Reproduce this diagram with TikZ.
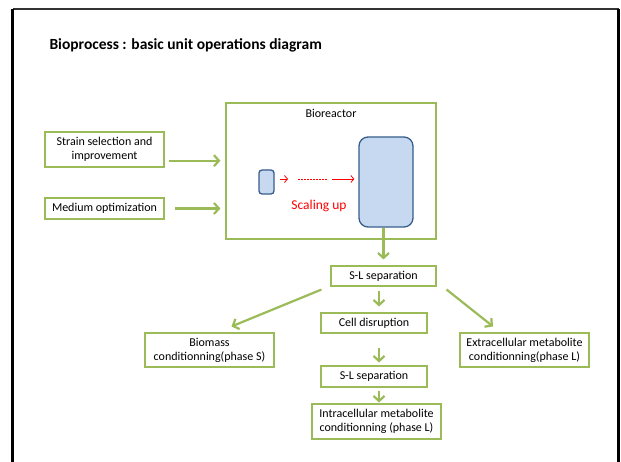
\documentclass[tikz,border=0pt]{standalone}
\usepackage{fontspec}
\setmainfont{Carlito}
\usetikzlibrary{arrows.meta}
\definecolor{OfficeGreen}{HTML}{9BBB59}
\definecolor{VesselFill}{HTML}{C6D9F1}
\definecolor{VesselEdge}{HTML}{385D8A}

\begin{document}
\begin{tikzpicture}[x=1pt,y=-1pt,font=\fontsize{12}{14}\selectfont,
  box/.style={draw=OfficeGreen,line width=1.1pt,fill=white,align=center,inner sep=0pt},
  flow/.style={draw=OfficeGreen,line width=2.2pt,-{Straight Barb[length=5pt,width=11pt]}},
  vessel/.style={draw=VesselEdge,fill=VesselFill,line width=1.3pt,inner sep=0pt},
  upscale/.style={draw=red,line width=0.8pt,-{Straight Barb[length=3pt,width=7pt]}}]
  \useasboundingbox (0,0) rectangle (621,462);

  % Frame
  \draw[black!80,line width=1.5pt] (12.5,9) -- (618.5,9);
  \draw[line width=2.2pt] (12.5,9) -- (12.5,462);
  \draw[line width=2.2pt] (618.5,9) -- (618.5,462);

  % Title
  \node[anchor=west,font=\fontsize{15.5}{18}\selectfont\bfseries] (title) at (46,45)
    {Bioprocess : basic unit operations diagram};

  % Upstream inputs
  \node[box,minimum width=119pt,minimum height=35pt] (strain) at (104.5,149.5)
    {Strain selection and\\improvement};
  \node[box,minimum width=119pt,minimum height=21pt] (medium) at (104.5,208.5)
    {Medium optimization};

  % Bioreactor
  \node[box,minimum width=210pt,minimum height=136pt] (reactor) at (331,171) {};
  \node (reactorlabel) at (331,113) {Bioreactor};
  \node[vessel,rounded corners=3pt,minimum width=15pt,minimum height=24pt] (small) at (266.5,182) {};
  \node[vessel,rounded corners=9pt,minimum width=54pt,minimum height=90pt] (big) at (386,182) {};

  % Scaling up
  \coordinate (dotstart) at (298,179);
  \coordinate (dotend) at (327,179);
  \draw[upscale] ([shift={(5,-3)}]small.east) -- ([xshift=-10pt]dotstart);
  \draw[red,line width=0.9pt,dash pattern=on 2pt off 1pt] (dotstart) -- (dotend);
  \draw[upscale,shorten >=4pt] ([xshift=5pt]dotend) -- ([yshift=3pt]big.west);
  \node[text=red,font=\fontsize{13.5}{16}\selectfont] (scaling) at (319,206) {Scaling up};

  \coordinate (strainin) at (164,160.7);
  \draw[flow,shorten <=5pt,shorten >=5pt] (strainin) -- (strainin -| reactor.west);
  \draw[flow,shorten <=10pt,shorten >=5pt] (medium.east) -- (medium.east -| reactor.west);

  % Downstream
  \node[box,minimum width=105pt,minimum height=20pt] (sep1) at (383.5,276) {S-L separation};
  \node[box,minimum width=106pt,minimum height=20pt] (cell) at (374,323) {Cell disruption};
  \node[box,minimum width=129pt,minimum height=34pt] (biomass) at (209.5,350)
    {Biomass\\conditionning(phase S)};
  \node[box,minimum width=129pt,minimum height=34pt] (extra) at (524.5,350)
    {Extracellular metabolite\\conditionning(phase L)};
  \node[box,minimum width=106pt,minimum height=21pt] (sep2) at (374,376.5) {S-L separation};
  \node[box,minimum width=129pt,minimum height=35pt] (intra) at (376.5,421.5)
    {Intracellular metabolite\\conditionning (phase L)};

  \coordinate (col) at (379,0);
  \draw[flow,shorten >=6pt] (big.south -| sep1.north) -- (sep1.north);
  \draw[flow,shorten <=4pt,shorten >=6pt] (col |- sep1.south) -- (col |- cell.north);
  \draw[flow,shorten <=14pt,shorten >=3pt] (col |- cell.south) -- (col |- sep2.north);
  \draw[flow,shorten <=3pt,shorten >=1pt] (col |- sep2.south) -- (col |- intra.north);
  \draw[flow] ([shift={(-9,3)}]sep1.south west) -- ([shift={(22,-6)}]biomass.north);
  \draw[flow] ([shift={(10,3)}]sep1.south east) -- ([shift={(-31.5,-6)}]extra.north);
\end{tikzpicture}
\end{document}
